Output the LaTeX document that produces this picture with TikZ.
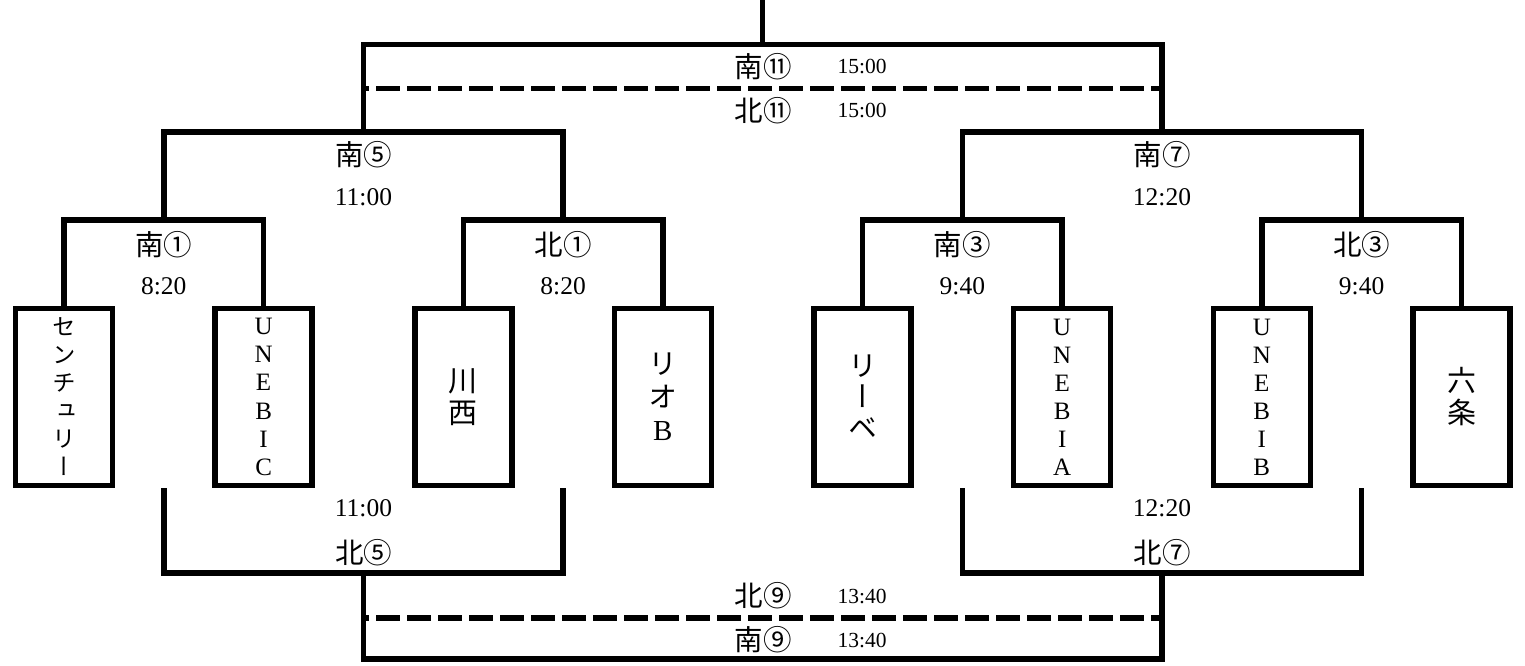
\documentclass[tikz,border=0pt]{standalone}
\usepackage{fontspec}
\setmainfont{Liberation Serif}
\newfontfamily\jp{Noto Sans CJK JP}
\newfontfamily\jpv[RawFeature=+vert]{Noto Sans CJK JP}

\tikzset{
  team/.style={draw,minimum width=97pt,minimum height=177pt,inner sep=0pt,align=center},
  game/.style={inner sep=0pt,font=\jp\fontsize{28.5}{30}\selectfont},
  clock/.style={inner sep=0pt,font=\fontsize{25.5}{30}\selectfont},
  fclock/.style={inner sep=0pt,font=\fontsize{21.5}{24}\selectfont},
  split/.style={dash pattern=on 24pt off 7pt,dash phase=18.5pt}
}

\begin{document}
\begin{tikzpicture}[x=1pt,y=-1pt,line width=5.5pt]
\useasboundingbox (0,0) rectangle (1525,666);

% teams
\node[team,font=\jpv\fontsize{23.5}{28}\selectfont] (t1) at (64,397) {セ\\ン\\チ\\ュ\\リ\\ー};
\node[team,font=\fontsize{25}{28.2}\selectfont] (t2) at (263.6,397) {U\\N\\E\\B\\I\\C};
\node[team,font=\jpv\fontsize{29}{32}\selectfont] (t3) at (463.3,397) {川\\西};
\node[team,font=\jpv\fontsize{29}{33}\selectfont] (t4) at (662.9,397) {リ\\オ\\\rmfamily B};
\node[team,font=\jpv\fontsize{29}{31}\selectfont] (t5) at (862.6,397) {リ\\ー\\ベ};
\node[team,font=\fontsize{25}{28}\selectfont] (t6) at (1062.2,397) {U\\N\\E\\B\\I\\A};
\node[team,font=\fontsize{25}{28}\selectfont] (t7) at (1261.8,397) {U\\N\\E\\B\\I\\B};
\node[team,font=\jpv\fontsize{29}{32}\selectfont] (t8) at (1461.5,397) {六\\条};

% junctions
\coordinate (j1) at (163.8,220);
\coordinate (j2) at (563.1,220);
\coordinate (j3) at (962.4,220);
\coordinate (j4) at (1361.6,220);
\coordinate (j5) at (363.5,132);
\coordinate (j7) at (1162,132);
\coordinate (j11) at (762.7,44.5);
\coordinate (top) at (762.7,0);
\coordinate (k5) at (363.5,573);
\coordinate (k7) at (1162,573);
\coordinate (k9) at (762.7,659);
\coordinate (d11a) at (363.5,88.5);
\coordinate (d11b) at (1162,88.5);
\coordinate (d9a) at (363.5,618);
\coordinate (d9b) at (1162,618);

% upper brackets
\draw (t1.north) |- (j1) -| (t2.north);
\draw (t3.north) |- (j2) -| (t4.north);
\draw (t5.north) |- (j3) -| (t6.north);
\draw (t7.north) |- (j4) -| (t8.north);
\draw (j1) |- (j5) -| (j2);
\draw (j3) |- (j7) -| (j4);
\draw (j5) |- (j11) -| (j7);
\draw (j11) -- (top);
\draw[split] (d11a) -- (d11b);

% lower brackets
\draw (j1 |- t1.south) |- (k5) -| (j2 |- t3.south);
\draw (j3 |- t5.south) |- (k7) -| (j4 |- t7.south);
\draw (k5) |- (k9) -| (k7);
\draw[split] (d9a) -- (d9b);

% games
\node[game] (s1) at (163.8,245) {南①};
\node[clock] (cs1) at (163.8,286) {8:20};
\node[game] (n1) at (563.1,245) {北①};
\node[clock] (cn1) at (563.1,286) {8:20};
\node[game] (s3) at (962.4,245) {南③};
\node[clock] (cs3) at (962.4,286) {9:40};
\node[game] (n3) at (1361.6,245) {北③};
\node[clock] (cn3) at (1361.6,286) {9:40};
\node[game] (s5) at (363.5,155) {南⑤};
\node[clock] (cs5) at (363.5,197) {11:00};
\node[game] (s7) at (1162,155) {南⑦};
\node[clock] (cs7) at (1162,197) {12:20};
\node[clock] (cn5) at (363.5,508) {11:00};
\node[game] (n5) at (363.5,553) {北⑤};
\node[clock] (cn7) at (1162,508) {12:20};
\node[game] (n7) at (1162,553) {北⑦};
\node[game] (s11) at (763,67) {南⑪};
\node[fclock] (cs11) at (862,67) {15:00};
\node[game] (n11) at (763,111) {北⑪};
\node[fclock] (cn11) at (862,111) {15:00};
\node[game] (n9) at (763,596) {北⑨};
\node[fclock] (cn9) at (862,596) {13:40};
\node[game] (s9) at (763,640) {南⑨};
\node[fclock] (cs9) at (862,640) {13:40};
\end{tikzpicture}
\end{document}
